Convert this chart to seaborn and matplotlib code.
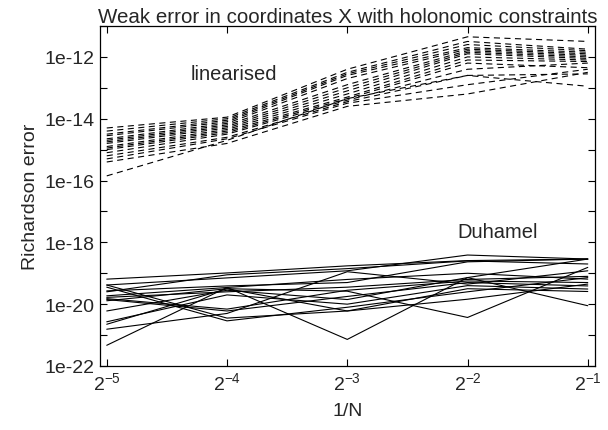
import numpy as np
import pandas as pd
import matplotlib
matplotlib.use("Agg")
import matplotlib.pyplot as plt
import matplotlib.ticker as mticker
import seaborn as sns

# step sizes 1/N
inv_n_exp = [-5, -4, -3, -2, -1]

# log10 of the Richardson error, one list per run
linearised = [
    [-14.30, -13.95, -12.40, -11.35, -11.50],
    [-14.40, -14.00, -12.50, -11.50, -11.75],
    [-14.50, -14.05, -12.55, -11.60, -11.80],
    [-14.55, -14.10, -12.60, -11.70, -11.85],
    [-14.65, -14.15, -12.70, -11.75, -11.90],
    [-14.70, -14.20, -12.90, -11.80, -11.95],
    [-14.75, -14.25, -13.00, -11.85, -12.00],
    [-14.80, -14.30, -13.10, -11.90, -12.05],
    [-14.90, -14.35, -13.20, -12.00, -12.10],
    [-14.95, -14.40, -13.30, -12.10, -12.15],
    [-15.00, -14.45, -13.35, -12.20, -12.35],
    [-15.10, -14.50, -13.40, -12.40, -12.20],
    [-15.20, -14.60, -13.45, -12.60, -12.55],
    [-15.30, -14.65, -13.50, -12.90, -12.40],
    [-15.40, -14.80, -13.60, -13.20, -12.50],
    [-15.85, -14.70, -13.35, -12.60, -12.95],
]

duhamel = [
    [-19.19, -18.99, -18.76, -18.59, -18.54],
    [-19.38, -19.15, -18.92, -18.41, -18.54],
    [-19.38, -20.45, -20.22, -19.84, -19.35],
    [-19.45, -20.54, -20.10, -19.60, -19.14],
    [-19.57, -19.41, -19.30, -18.63, -18.54],
    [-19.73, -19.46, -21.14, -19.14, -18.54],
    [-19.78, -19.60, -19.45, -19.20, -19.10],
    [-19.82, -20.16, -19.55, -19.25, -19.30],
    [-19.85, -20.22, -19.75, -19.30, -19.41],
    [-19.89, -19.50, -19.58, -20.43, -18.81],
    [-20.22, -19.55, -19.85, -19.14, -20.05],
    [-20.57, -19.70, -20.00, -19.40, -19.51],
    [-20.65, -19.50, -20.22, -19.50, -19.59],
    [-20.81, -20.30, -18.95, -19.35, -18.92],
    [-21.33, -19.46, -19.20, -19.00, -19.19],
    [-19.60, -19.05, -18.85, -18.60, -18.70],
]

rows = []
for name, runs in [("linearised", linearised), ("Duhamel", duhamel)]:
    for i, run in enumerate(runs):
        for e, v in zip(inv_n_exp, run):
            rows.append({"inv_n": 2.0 ** e, "err": 10.0 ** v,
                         "method": name, "run": f"{name}_{i}"})
df = pd.DataFrame(rows)

sns.set_style("ticks")
plt.rcParams["font.family"] = ["Liberation Sans", "DejaVu Sans"]
plt.rcParams["mathtext.fontset"] = "custom"
plt.rcParams["mathtext.rm"] = "Liberation Sans"
plt.rcParams["mathtext.it"] = "Liberation Sans:italic"

fig = plt.figure(figsize=(6.08, 4.31), dpi=100)
ax = fig.add_axes([0.1645, 0.1485, 0.8141, 0.7889])

sns.lineplot(data=df, x="inv_n", y="err", units="run", estimator=None,
             style="method", dashes={"linearised": (5.5, 4), "Duhamel": ""},
             color="black", linewidth=0.8, legend=False, ax=ax)

ax.set_xscale("log", base=2)
ax.set_yscale("log")
ax.set_xlim(2.0 ** -5.056, 2.0 ** -0.94)
ax.set_ylim(1e-22, 1e-11)

ax.xaxis.set_major_locator(mticker.FixedLocator([2.0 ** e for e in inv_n_exp]))
ax.xaxis.set_major_formatter(mticker.FixedFormatter([f"$2^{{{e}}}$" for e in inv_n_exp]))
ax.xaxis.set_minor_locator(mticker.NullLocator())

major_y = [10.0 ** e for e in range(-22, -11, 2)]
ax.yaxis.set_major_locator(mticker.FixedLocator(major_y))
ax.yaxis.set_major_formatter(mticker.FixedFormatter([f"1e{e}" for e in range(-22, -11, 2)]))
ax.yaxis.set_minor_locator(mticker.FixedLocator([10.0 ** e for e in range(-21, -10, 2)]))
ax.yaxis.set_minor_formatter(mticker.NullFormatter())

ax.tick_params(which="both", direction="in", top=True, right=True,
               labelsize=14, color="black", width=0.8)
ax.tick_params(which="major", length=5, pad=4)
ax.tick_params(which="minor", length=5)
for s in ax.spines.values():
    s.set_linewidth(0.9)
    s.set_color("black")

ax.set_xlabel("1/N", fontsize=14, labelpad=6)
ax.set_ylabel("Richardson error", fontsize=14, labelpad=4)
ax.set_title("Weak error in coordinates X with holonomic constraints",
             fontsize=14.8, pad=3)

ax.text(2.0 ** -3.94, 10.0 ** -12.54, "linearised", fontsize=14.5,
        ha="center", va="center")
ax.text(2.0 ** -1.75, 10.0 ** -17.66, "Duhamel", fontsize=14.5,
        ha="center", va="center")

fig.savefig("out.png", dpi=100)
